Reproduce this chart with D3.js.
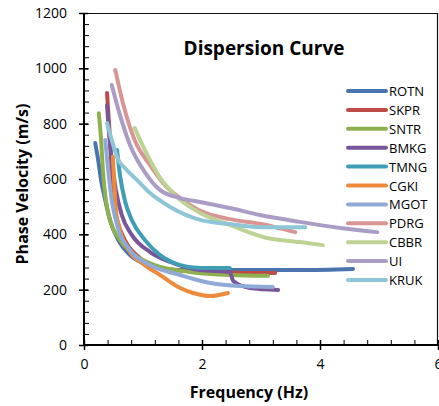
<!DOCTYPE html>
<html>
<head>
<meta charset="utf-8">
<script src="https://cdn.jsdelivr.net/npm/d3@7"></script>
<style>
  body { margin: 0; background: #fff; }
  text { font-family: "Open Sans", sans-serif; fill: #000; }
</style>
</head>
<body>
<div id="chart"></div>
<script>
const WIDTH = 439;
const HEIGHT = 406;
const MARGIN = { TOP: 13, RIGHT: 1, BOTTOM: 61, LEFT: 84 };

// station names (legend order = draw order)
const stations = ["ROTN", "SKPR", "SNTR", "BMKG", "TMNG", "CGKI", "MGOT", "PDRG", "CBBR", "UI", "KRUK"];
const colors = ["#4a74ad", "#bf4b48", "#8fb04f", "#77579a", "#3f9db6", "#ee8a3c", "#8faad6", "#d89593", "#bcd393", "#ab9cc6", "#8ec6d8"];

// [frequency (Hz), phase velocity (m/s)]
const ROTN = [[0.19, 730], [0.24, 669], [0.29, 596], [0.36, 524], [0.44, 452], [0.58, 380], [0.78, 325], [1.12, 289], [1.63, 271], [2.8, 271], [3.66, 271], [4.56, 275]];
const SKPR = [[0.39, 911], [0.42, 813], [0.46, 669], [0.49, 524], [0.56, 452], [0.69, 380], [0.95, 314], [1.29, 278], [1.97, 264], [2.81, 260], [3.24, 260]];
const SNTR = [[0.25, 838], [0.29, 741], [0.32, 632], [0.37, 524], [0.44, 452], [0.61, 380], [0.86, 325], [1.2, 289], [1.8, 264], [2.47, 253], [3.12, 250]];
const BMKG = [[0.39, 867], [0.42, 777], [0.47, 669], [0.54, 560], [0.64, 470], [0.81, 398], [1.12, 336], [1.46, 300], [1.97, 271], [2.47, 264], [2.53, 231], [2.81, 206], [3.29, 199]];
const TMNG = [[0.56, 705], [0.61, 614], [0.69, 524], [0.81, 452], [1.03, 380], [1.29, 325], [1.63, 289], [1.97, 278], [2.47, 278]];
const CGKI = [[0.49, 680], [0.51, 596], [0.54, 488], [0.61, 416], [0.78, 336], [1.03, 289], [1.29, 253], [1.63, 206], [1.85, 188], [2.14, 177], [2.44, 188]];
const MGOT = [[0.36, 741], [0.41, 632], [0.47, 524], [0.56, 434], [0.78, 343], [1.12, 289], [1.63, 253], [2.14, 224], [2.64, 213], [3.2, 210]];
const PDRG = [[0.53, 994], [0.69, 850], [0.86, 740], [1.12, 650], [1.37, 578], [1.63, 531], [1.97, 485], [2.47, 455], [2.98, 438], [3.58, 408]];
const CBBR = [[0.86, 784], [1.03, 705], [1.29, 604], [1.54, 542], [1.97, 477], [2.47, 434], [3.1, 387], [3.66, 372], [4.05, 361]];
const UI = [[0.47, 940], [0.61, 831], [0.78, 723], [1.03, 625], [1.29, 560], [1.63, 531], [1.97, 517], [2.47, 495], [2.98, 470], [3.66, 445], [4.34, 423], [4.97, 408]];
const KRUK = [[0.39, 802], [0.47, 741], [0.58, 669], [0.69, 640], [0.9, 596], [1.12, 549], [1.46, 499], [1.97, 452], [2.47, 437], [2.98, 426], [3.75, 426]];

const series = [ROTN, SKPR, SNTR, BMKG, TMNG, CGKI, MGOT, PDRG, CBBR, UI, KRUK];

const xMajor = [0, 2, 4, 6];
const yMajor = [0, 200, 400, 600, 800, 1000, 1200];

const innerW = WIDTH - MARGIN.LEFT - MARGIN.RIGHT;
const innerH = HEIGHT - MARGIN.TOP - MARGIN.BOTTOM;

const svg = d3
  .select("#chart")
  .append("svg")
  .attr("width", WIDTH)
  .attr("height", HEIGHT);

const plot = svg
  .append("g")
  .attr("transform", `translate(${MARGIN.LEFT}, ${MARGIN.TOP})`);

const x = d3.scaleLinear().domain([0, 6]).range([0, innerW]);
const y = d3.scaleLinear().domain([0, 1200]).range([innerH, 0]);

// frame (top + right)
plot
  .append("path")
  .attr("d", `M0,0.5H${innerW - 0.5}V${innerH}`)
  .attr("fill", "none")
  .attr("stroke", "#111")
  .attr("stroke-width", 1.2);

// curves
const line = d3
  .line()
  .x((d) => x(d[0]))
  .y((d) => y(d[1]))
  .curve(d3.curveMonotoneX);

series.forEach((s, i) => {
  plot
    .append("path")
    .datum(s)
    .attr("fill", "none")
    .attr("stroke", colors[i])
    .attr("stroke-width", 4)
    .attr("stroke-linecap", "round")
    .attr("stroke-linejoin", "round")
    .attr("d", line);
});

// minor ticks (inside)
plot
  .append("g")
  .attr("transform", `translate(0, ${innerH})`)
  .call(d3.axisTop(x).tickValues(d3.range(0, 6.01, 0.4)).tickSize(5).tickFormat(""))
  .call((g) => g.select(".domain").remove());
plot
  .append("g")
  .call(d3.axisRight(y).tickValues(d3.range(0, 1201, 40)).tickSize(5).tickFormat(""))
  .call((g) => g.select(".domain").remove());

// major axes
const xAxis = plot
  .append("g")
  .attr("transform", `translate(0, ${innerH})`)
  .call(d3.axisBottom(x).tickValues(xMajor).tickFormat(d3.format("d")).tickSize(5).tickPadding(9))
  .call((g) => g.select(".domain").attr("stroke-width", 2).attr("d", `M0,0H${innerW}`));
xAxis.selectAll(".tick line").attr("y1", -5).attr("stroke-width", 1.5);
xAxis.selectAll("text").attr("font-size", "14px").attr("font-family", "Open Sans");

const yAxis = plot
  .append("g")
  .call(d3.axisLeft(y).tickValues(yMajor).tickFormat(d3.format("d")).tickSize(5).tickPadding(12))
  .call((g) => g.select(".domain").attr("stroke-width", 2).attr("d", `M0,0V${innerH}`));
yAxis.selectAll(".tick line").attr("x1", 4).attr("x2", -5).attr("stroke-width", 1.5);
yAxis.selectAll("text").attr("font-size", "14px").attr("font-family", "Open Sans");

// title
svg
  .append("text")
  .attr("x", 264)
  .attr("y", 55)
  .attr("text-anchor", "middle")
  .attr("font-size", "19px")
  .attr("font-weight", "bold")
  .text("Dispersion Curve");

svg
  .append("text")
  .attr("x", 249)
  .attr("y", 398)
  .attr("text-anchor", "middle")
  .attr("font-size", "16px")
  .attr("font-weight", "bold")
  .text("Frequency (Hz)");

svg
  .append("text")
  .attr("transform", "translate(28, 184) rotate(-90)")
  .attr("text-anchor", "middle")
  .attr("font-size", "16px")
  .attr("font-weight", "bold")
  .text("Phase Velocity (m/s)");

// legend
const legend = svg
  .append("g")
  .selectAll("g")
  .data(stations)
  .enter()
  .append("g")
  .attr("transform", (d, i) => `translate(348, ${91 + i * 18.9})`);

legend
  .append("line")
  .attr("x1", 0)
  .attr("x2", 38)
  .attr("stroke", (d, i) => colors[i])
  .attr("stroke-width", 4)
  .attr("stroke-linecap", "round");

legend
  .append("text")
  .attr("x", 41)
  .attr("y", 5)
  .attr("font-size", "13px")
  .text((d) => d);
</script>
</body>
</html>
